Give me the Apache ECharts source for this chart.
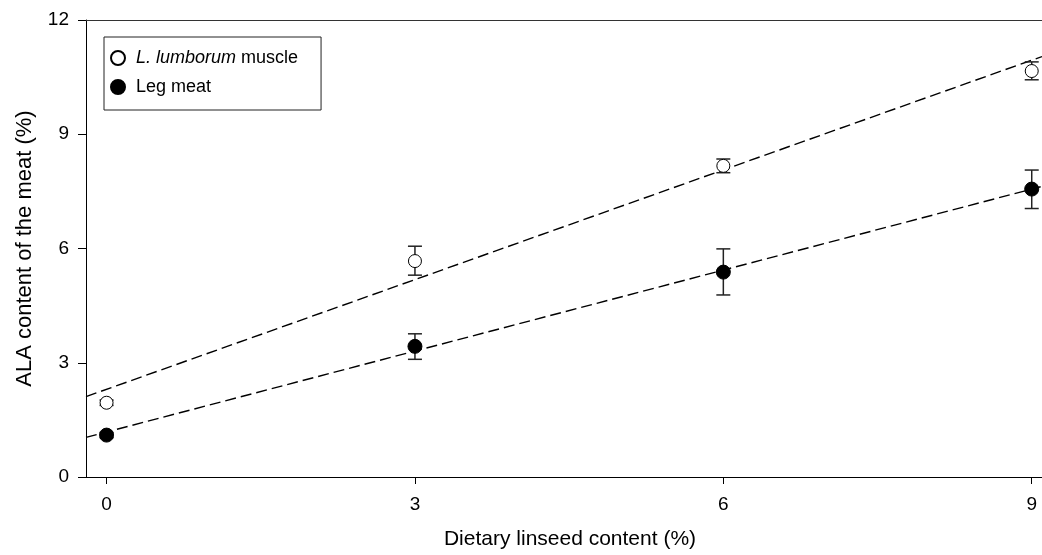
<!DOCTYPE html>
<html><head><meta charset="utf-8">
<script src="https://cdn.jsdelivr.net/npm/echarts@6/dist/echarts.min.js"></script>
<style>html,body{margin:0;padding:0;background:#fff}#c{width:1042px;height:555px}</style>
</head><body><div id="c"></div>
<script>
// Data
const doses = [0, 3, 6, 9];
const lumborumMean = [1.95, 5.67, 8.17, 10.66];
const lumborumLow  = [1.88, 5.30, 7.99, 10.43];
const lumborumHigh = [2.02, 6.06, 8.35, 10.90];
const legMean = [1.10, 3.43, 5.38, 7.56];
const legLow  = [1.03, 3.09, 4.78, 7.05];
const legHigh = [1.17, 3.76, 5.99, 8.06];
// Regression line end points (x at the plot edges)
const fitX = [-0.2, 9.1];
const lumborumFit = [2.11, 11.04];
const legFit = [1.04, 7.63];
const xTicks = [0, 3, 6, 9];
const yTicks = [0, 3, 6, 9, 12];
const nameLum = 'L. lumborum muscle';
const nameLeg = 'Leg meat';

const FONT = 'Liberation Sans, Arial, sans-serif';
const chart = echarts.init(document.getElementById('c'));
const zip = (xs, ys) => xs.map((x, i) => [x, ys[i]]);
const errData = (m, lo, hi) => doses.map((x, i) => [x, lo[i], hi[i]]);
function errRender(params, api) {
  const x = api.value(0);
  const pHi = api.coord([x, api.value(2)]);
  const pLo = api.coord([x, api.value(1)]);
  const w = 7;
  const st = { stroke: '#222', lineWidth: 1.5 };
  return { type: 'group', children: [
    { type: 'line', shape: { x1: pHi[0], y1: pHi[1], x2: pLo[0], y2: pLo[1] }, style: st },
    { type: 'line', shape: { x1: pHi[0] - w, y1: pHi[1], x2: pHi[0] + w, y2: pHi[1] }, style: st },
    { type: 'line', shape: { x1: pLo[0] - w, y1: pLo[1], x2: pLo[0] + w, y2: pLo[1] }, style: st }
  ]};
}
chart.setOption({
  animation: false,
  backgroundColor: '#fff',
  textStyle: { fontFamily: FONT },
  grid: { left: 86, top: 20, right: 0, height: 459, show: false, containLabel: false },
  legend: {
    orient: 'vertical', left: 104, top: 37,
    padding: [12, 23, 14, 6], itemGap: 11, itemWidth: 26, itemHeight: 14,
    borderColor: '#222', borderWidth: 1, backgroundColor: '#fff',
    data: [nameLum, nameLeg],
    formatter: n => n === nameLum ? '{i|L. lumborum} muscle' : n,
    textStyle: { fontFamily: FONT, fontSize: 18, color: '#000', rich: { i: { fontStyle: 'italic', fontFamily: FONT, fontSize: 18, color: '#000' } } }
  },
  xAxis: [{
    type: 'value', min: -0.2, max: 9.1,
    name: 'Dietary linseed content (%)', nameLocation: 'middle', nameGap: 52,
    nameTextStyle: { fontFamily: FONT, fontSize: 21, color: '#000', padding: [0, 0, 0, 12] },
    axisLine: { show: true, onZero: false, lineStyle: { color: '#000', width: 1 } },
    axisTick: { show: true, inside: false, length: 7, customValues: xTicks, lineStyle: { color: '#000' } },
    axisLabel: { margin: 18, fontSize: 19, color: '#000', fontFamily: FONT, customValues: xTicks },
    splitLine: { show: false }
  }, {
    type: 'value', position: 'top', min: -0.2, max: 9.1,
    axisLine: { show: true, onZero: false, lineStyle: { color: '#333', width: 1.2 } },
    axisTick: { show: false }, axisLabel: { show: false }, splitLine: { show: false }
  }],
  yAxis: {
    type: 'value', min: 0, max: 12, interval: 3,
    name: 'ALA content of the meat (%)', nameLocation: 'middle', nameGap: 50,
    nameTextStyle: { fontFamily: FONT, fontSize: 22, color: '#000' },
    axisLine: { show: true, onZero: false, lineStyle: { color: '#000', width: 1 } },
    axisTick: { show: true, inside: false, length: 8, lineStyle: { color: '#000' } },
    axisLabel: { margin: 17, fontSize: 19, color: '#000', fontFamily: FONT, customValues: yTicks },
    splitLine: { show: false }
  },
  series: [
    { type: 'line', data: zip(fitX, lumborumFit), symbol: 'none', silent: true, z: 1,
      lineStyle: { color: '#000', width: 1.4, type: [11, 5] } },
    { type: 'line', data: zip(fitX, legFit), symbol: 'none', silent: true, z: 1,
      lineStyle: { color: '#000', width: 1.4, type: [11, 5] } },
    { type: 'custom', renderItem: errRender, data: errData(lumborumMean, lumborumLow, lumborumHigh), z: 2, encode: { x: 0, y: [1, 2] } },
    { type: 'custom', renderItem: errRender, data: errData(legMean, legLow, legHigh), z: 2, encode: { x: 0, y: [1, 2] } },
    { name: nameLum, type: 'scatter', data: zip(doses, lumborumMean), symbol: 'circle', symbolSize: 13, z: 3,
      itemStyle: { color: '#fff', borderColor: '#000', borderWidth: 1, opacity: 1 } },
    { name: nameLeg, type: 'scatter', data: zip(doses, legMean), symbol: 'circle', symbolSize: 14, z: 3,
      itemStyle: { color: '#000', borderColor: '#000', borderWidth: 1, opacity: 1 } }
  ]
});
</script></body></html>
